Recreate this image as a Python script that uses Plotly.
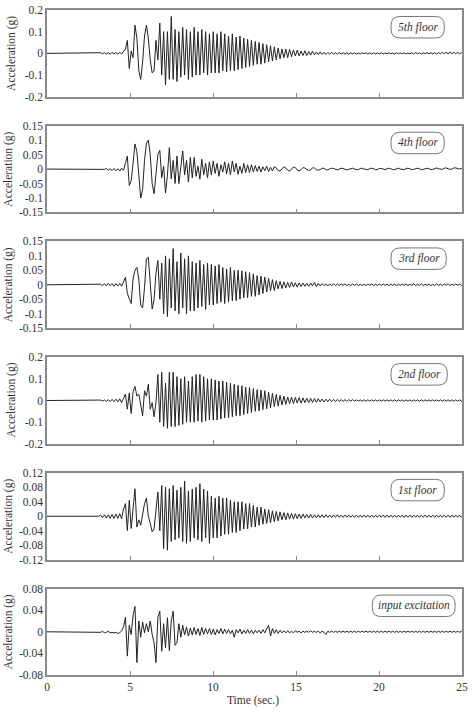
import plotly.graph_objects as go

# ---------------- data (acceleration in g, sampled every DT seconds from T0) ----------------
T0 = 3.0
DT = 0.115

floor5 = [
    0, 0, .003, -.002, .004, -.003, .003, -.004, .005, -.003,
    .004, -.004, .005, -.003, .01, .02, .06, -.07, .01, -.02,
    .13, .07, -.08, -.12, -.04, .08, .13, .07, -.03, -.09,
    -.08, .06, -.03, .14, -.10, .10, -.145, .10, -.12, .17,
    -.12, .11, -.13, .10, -.11, .12, -.10, .11, -.12, .10,
    -.11, .12, -.10, .10, -.10, .11, -.09, .10, -.10, .09,
    -.09, .10, -.09, .09, -.09, .10, -.08, .09, -.085, .08,
    -.08, .09, -.08, .075, -.075, .08, -.07, .07, -.065, .065,
    -.06, .06, -.055, .055, -.05, .05, -.05, .045, -.045, .04,
    -.04, .035, -.035, .03, -.03, .025, -.025, .02, -.02, .02,
    -.02, .018, -.015, .015, -.012, .015, -.012, .01, -.01, .012,
    -.01, .008, -.008, .01, -.007, .006, -.006, .007, -.005, .005,
    -.005, .004, -.004, .005, -.004, .003, -.004, .004, -.003, .003,
    -.003, .003, -.004, .003, -.003, .003, -.003, .002, -.003, .003,
    -.002, .003, -.003, .002, -.002, .003, -.003, .002, -.002, .003,
    -.003, .002, -.002, .003, -.002, .002, -.003, .003, -.002, .002,
    -.002, .003, -.003, .002, -.002, .003, -.003, .004, -.002, .003,
    -.003, .003, -.002, .004, -.003, .003, -.002, .003, -.003, .004,
    -.002, .005, -.002, .006, -.003, .007, -.002, .005, -.002, .004,
    -.002, .003, -.002, .003, 0, 0, 0, 0, 0, 0,
]

floor4 = [
    0, 0, 0, .001, -.001, .002, -.004, .001, -.005, .002,
    -.006, .001, -.007, .003, -.004, .02, .045, -.057, -.04, .02,
    .087, .06, -.03, -.10, -.07, .03, .09, .10, .05, -.05,
    -.085, -.02, .05, .065, -.03, .01, -.083, -.02, .074, -.034,
    .03, -.05, .045, -.05, .02, .063, -.02, .03, -.045, .04,
    -.03, .04, -.025, .01, -.035, .034, -.02, .02, -.03, .025,
    -.02, .028, -.015, .02, -.025, .015, -.01, .025, -.017, .02,
    -.02, .028, -.01, .02, -.018, .01, -.015, .02, -.012, .015,
    -.012, .015, -.01, .012, -.008, .01, -.01, .008, -.006, .01,
    -.008, .006, -.006, .008, .004, -.005, -.007, .002, .008, .004,
    -.004, -.007, .002, .007, .005, -.003, -.006, -.002, .005, .004,
    -.002, -.005, -.002, .004, .004, -.002, -.004, -.002, .003, .003,
    -.002, -.003, .001, .003, .002, -.002, -.003, 0, .003, .002,
    -.001, -.003, -.001, .002, .003, 0, -.002, -.002, .002, .003,
    0, -.002, -.002, .002, .003, .001, -.002, -.002, .002, .002,
    -.001, -.002, .001, .003, .001, -.002, -.002, .002, .003, 0,
    -.002, -.002, .002, .003, .001, -.002, -.001, .002, .003, .001,
    -.002, -.001, .002, .003, .001, -.002, -.001, .003, .004, .001,
    -.001, -.001, .003, .004, .001, -.001, 0, .004, .004, .001,
    0, .002, .003, 0, 0, 0, 0, 0, 0, 0,
]

floor3 = [
    0, 0, .002, -.003, .004, -.004, .005, -.003, .004, -.005,
    .004, -.004, .005, -.005, .01, .026, -.03, -.045, -.065, .02,
    .05, .06, .02, -.07, -.08, -.01, .09, .095, 0, -.084,
    -.05, .04, .084, -.05, .075, -.10, .10, -.11, .09, -.08,
    .125, -.09, .08, -.10, .11, -.08, .09, -.10, .10, -.09,
    .08, -.09, .075, -.08, .085, -.075, .07, -.085, .075, -.07,
    .07, -.07, .065, -.065, .07, -.06, .06, -.065, .055, -.06,
    .06, -.055, .05, -.055, .05, -.05, .048, -.045, .045, -.045,
    .042, -.04, .038, -.04, .032, -.035, .03, -.03, .027, -.025,
    .022, -.02, .018, -.02, .014, -.014, .012, -.013, .01, -.011,
    .008, -.009, .01, -.007, .007, -.008, .006, -.006, .006, -.005,
    .005, -.005, .006, -.004, .008, -.006, .005, -.004, .004, -.003,
    .003, -.004, .003, -.003, .004, -.003, .003, -.003, .003, -.002,
    .003, -.003, .002, -.003, .003, -.002, .003, -.003, .002, -.003,
    .002, -.003, .003, -.002, .003, -.003, .002, -.002, .003, -.002,
    .003, -.002, .002, -.003, .003, -.002, .002, -.003, .002, -.002,
    .003, -.002, .003, -.003, .002, -.002, .004, -.003, .002, -.002,
    .003, -.003, .002, -.002, .003, -.003, .002, -.003, .003, -.002,
    .002, -.003, .003, -.002, .004, -.003, .002, -.002, .003, -.002,
    .002, -.002, .003, 0, 0, 0, 0, 0, 0, 0,
]

floor2 = [
    0, 0, .002, -.003, .003, -.004, .004, -.005, .005, -.005,
    .006, -.006, .008, -.01, .01, .03, -.04, .035, -.06, .04,
    .065, .02, .03, -.02, -.07, .045, .02, .075, -.04, -.01,
    -.075, -.01, .12, -.10, .13, -.12, .08, -.128, .13, -.12,
    .13, -.12, .11, -.115, .10, -.11, .11, -.10, .09, -.10,
    .11, -.10, .12, -.095, .12, -.10, .11, -.095, .10, -.09,
    .10, -.09, .095, -.09, .09, -.085, .09, -.08, .085, -.08,
    .08, -.075, .075, -.07, .07, -.07, .068, -.065, .062, -.06,
    .06, -.055, .055, -.05, .05, -.048, .048, -.042, .045, -.038,
    .038, -.033, .033, -.028, .028, -.025, .024, -.021, .02, -.018,
    .016, -.015, .016, -.014, .014, -.012, .013, -.012, .012, -.01,
    .01, -.01, .01, -.009, .009, -.008, .008, -.007, .007, -.007,
    .006, -.006, .006, -.005, .005, -.005, .005, -.004, .004, -.004,
    .004, -.004, .004, -.003, .004, -.003, .003, -.003, .003, -.003,
    .003, -.003, .003, -.003, .003, -.003, .003, -.003, .003, -.003,
    .003, -.003, .003, -.003, .003, -.003, .003, -.003, .003, -.003,
    .003, -.003, .003, -.003, .003, -.003, .003, -.003, .003, -.003,
    .003, -.003, .003, -.003, .003, -.003, .003, -.003, .003, -.003,
    .003, -.003, .003, -.003, .003, -.003, .003, -.003, .003, -.003,
    .003, -.003, .003, 0, 0, 0, 0, 0, 0, 0,
]

floor1 = [
    0, 0, .003, -.004, .004, -.005, .004, -.006, .005, -.006,
    .006, -.006, .007, -.007, .02, .035, -.04, .044, -.034, .03,
    .076, -.03, -.01, -.025, .01, .035, .05, 0, -.02, -.043,
    -.035, .02, .067, -.04, .085, -.09, .08, -.094, .076, -.07,
    .085, -.065, .072, -.06, .08, -.07, .097, -.075, .07, -.07,
    .075, -.06, .08, -.065, .09, -.07, .075, -.06, .07, -.075,
    .055, -.06, .05, -.06, .055, -.055, .05, -.05, .05, -.05,
    .045, -.045, .04, -.045, .04, -.04, .04, -.035, .035, -.035,
    .035, -.03, .03, -.03, .025, -.025, .025, -.022, .02, -.02,
    .018, -.018, .015, -.015, .013, -.013, .012, -.01, .01, -.01,
    .009, -.008, .008, -.008, .007, -.007, .006, -.006, .006, -.005,
    .005, -.005, .005, -.005, .004, -.004, .004, -.004, .004, -.004,
    .004, -.003, .003, -.004, .003, -.003, .004, -.003, .003, -.003,
    .003, -.003, .003, -.003, .003, -.003, .003, -.003, .003, -.003,
    .003, -.003, .003, -.003, .003, -.003, .003, -.003, .003, -.003,
    .003, -.003, .003, -.003, .003, -.003, .003, -.003, .003, -.003,
    .003, -.003, .003, -.003, .003, -.003, .003, -.003, .003, -.003,
    .003, -.003, .003, -.003, .003, -.003, .003, -.003, .003, -.003,
    .003, -.003, .003, -.003, .003, -.003, .003, -.003, .003, -.003,
    .003, -.003, .003, 0, 0, 0, 0, 0, 0, 0,
]

excitation = [
    0, 0, -.001, .001, -.002, -.001, .001, -.002, -.001, -.002,
    -.001, -.003, -.002, .002, .009, .027, -.045, .012, -.005, .03,
    .047, -.057, .02, -.01, .018, -.002, .015, 0, .02, -.005,
    -.02, -.057, .027, .038, -.036, .015, -.03, .026, -.035, .02,
    .038, -.025, -.02, .015, -.01, .012, -.006, .009, -.008, .007,
    -.006, .008, -.005, .006, -.007, .008, -.005, .006, -.004, .006,
    -.005, .005, -.006, .004, -.003, .006, -.004, .005, -.003, .004,
    -.004, .003, -.01, .004, -.002, .005, -.004, .003, -.003, .004,
    -.003, .003, -.004, .003, -.002, .003, -.003, .004, -.002, .005,
    .012, -.008, .006, -.003, .004, -.003, .003, -.002, .002, -.002,
    .002, -.002, .001, -.002, .002, -.001, .001, -.002, .001, -.001,
    .001, -.001, .002, -.001, .001, -.001, .001, -.002, .001, -.001,
    -.005, .001, -.001, .001, -.001, .001, -.001, .001, -.001, .001,
    -.001, .001, -.001, .001, -.001, .001, -.001, .001, -.001, .001,
    -.001, .001, -.001, .001, -.001, .001, -.001, .001, -.001, .001,
    -.001, .001, -.001, .001, -.001, .001, -.001, .001, -.001, .001,
    -.001, .001, -.001, .001, -.001, .001, -.001, .001, -.001, .001,
    -.001, .001, -.001, .001, -.001, .001, -.001, .001, -.001, .001,
    -.001, .001, -.001, .001, -.001, .001, -.001, .001, -.001, .001,
    -.001, .001, 0, 0, 0, 0, 0, 0, 0, 0,
]

labels = ["5th floor", "4th floor", "3rd floor", "2nd floor", "1st floor", "input excitation"]
series = [floor5, floor4, floor3, floor2, floor1, excitation]
y_ticks = [
    ["-0.2", "-0.1", "0", "0.1", "0.2"],
    ["-0.15", "-0.1", "-0.05", "0", "0.05", "0.1", "0.15"],
    ["-0.15", "-0.1", "-0.05", "0", "0.05", "0.1", "0.15"],
    ["-0.2", "-0.1", "0", "0.1", "0.2"],
    ["-0.12", "-0.08", "-0.04", "0", "0.04", "0.08", "0.12"],
    ["-0.08", "-0.04", "0", "0.04", "0.08"],
]
x_ticks = ["0", "5", "10", "15", "20", "25"]

# ---------------- layout geometry (pixels) ----------------
W, H = 472, 713
PL, PR, PT, PB = 47, 468, 9.5, 675
PW, PH = PR - PL, PB - PT
PANEL_STEP, PANEL_H = 115.8, 86.8
FONT = "Liberation Serif"
TXT = "#333333"
FRAME = "#8a8a8a"

def pxx(x):
    return (x - PL) / PW

def pxy(y):
    return (PB - y) / PH

def clamp(v):
    return min(1.0, max(0.0, v))

title_x = [11, 8, 8, 11.5, 8, 8]
box_x = [(396, 450), (396, 450), (396, 452), (396, 453), (396, 450), (377, 461)]

fig = go.Figure()
layout = dict(
    width=W, height=H,
    margin=dict(l=PL, r=W - PR, t=PT, b=H - PB, pad=0),
    paper_bgcolor="white", plot_bgcolor="white",
    showlegend=False,
    font=dict(family=FONT, size=11.5, color=TXT),
)
annotations = []
shapes = []

for k, (lab, vals, yt) in enumerate(zip(labels, series, y_ticks)):
    top = PT + PANEL_STEP * k
    bot = min(top + PANEL_H, PB)
    n = "" if k == 0 else str(k + 1)
    t = [0.0] + [T0 + DT * i for i in range(len(vals))]
    a = [0.0] + list(vals)
    fig.add_trace(go.Scatter(x=t, y=a, mode="lines", xaxis="x" + n, yaxis="y" + n,
                             line=dict(color="#222222", width=1), hoverinfo="skip"))
    yv = [float(s) for s in yt]
    layout["xaxis" + n] = dict(
        domain=[0, 1], anchor="y" + n, range=[0, 25],
        tickvals=[float(s) for s in x_ticks], ticktext=x_ticks,
        ticks="inside", ticklen=4, tickcolor=FRAME, tickwidth=1,
        showticklabels=(k == 5), showgrid=False, zeroline=False,
        showline=True, mirror=True, linecolor=FRAME, linewidth=1.5,
        tickfont=dict(family=FONT, size=11.5, color=TXT),
    )
    if k > 0:
        layout["xaxis" + n]["matches"] = "x"
    layout["yaxis" + n] = dict(
        domain=[clamp(pxy(bot)), clamp(pxy(top))], anchor="x" + n,
        range=[yv[0], yv[-1]], tickvals=yv, ticktext=yt,
        ticks="", showgrid=False, zeroline=False,
        showline=True, mirror=True, linecolor=FRAME, linewidth=1.5,
        tickfont=dict(family=FONT, size=11.5, color=TXT),
    )
    annotations.append(dict(
        text="Acceleration (g)", xref="paper", yref="paper",
        x=pxx(title_x[k]), y=pxy((top + bot) / 2), xanchor="center", yanchor="middle",
        textangle=-90, showarrow=False, font=dict(family=FONT, size=11.5, color=TXT),
    ))
    x0, x1 = box_x[k]
    y0, y1 = top + 6.5, top + 28
    r = 9
    pts = [("M", x0 + r, y0), ("L", x1 - r, y0), ("Q", x1, y0, x1, y0 + r), ("L", x1, y1 - r),
           ("Q", x1, y1, x1 - r, y1), ("L", x0 + r, y1), ("Q", x0, y1, x0, y1 - r),
           ("L", x0, y0 + r), ("Q", x0, y0, x0 + r, y0)]
    path = ""
    for p in pts:
        cmd = p[0]
        coords = p[1:]
        segs = []
        for j in range(0, len(coords), 2):
            segs.append(f"{pxx(coords[j]):.5f},{pxy(coords[j + 1]):.5f}")
        path += cmd + " " + " ".join(segs) + " "
    path += "Z"
    shapes.append(dict(type="path", path=path, xref="paper", yref="paper",
                       line=dict(color="#777777", width=1), fillcolor="white", layer="above"))
    annotations.append(dict(
        text="<i>" + lab + "</i>", xref="paper", yref="paper",
        x=pxx((x0 + x1) / 2), y=pxy((y0 + y1) / 2), xanchor="center", yanchor="middle",
        showarrow=False, font=dict(family=FONT, size=11.5, color=TXT),
    ))

annotations.append(dict(
    text="Time (sec.)", xref="paper", yref="paper", x=pxx(256), y=pxy(701),
    xanchor="center", yanchor="middle", showarrow=False,
    font=dict(family=FONT, size=11.5, color=TXT),
))
layout["annotations"] = annotations
layout["shapes"] = shapes
fig.update_layout(**layout)
fig.write_html("out.html")
